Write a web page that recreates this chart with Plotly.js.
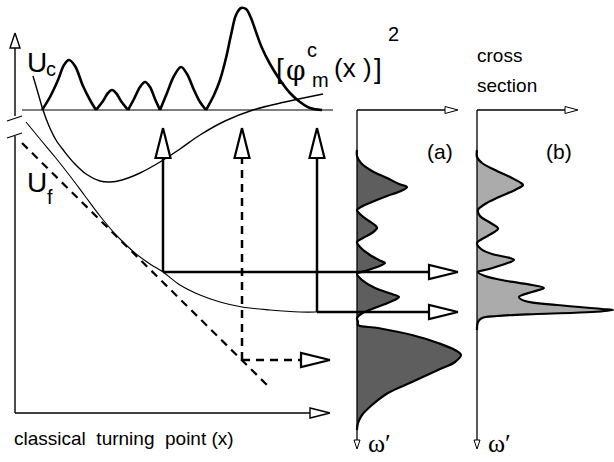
<!DOCTYPE html>
<html><head><meta charset="utf-8">
<script src="https://cdn.plot.ly/plotly-3.0.1.min.js"></script>
<style>html,body{margin:0;padding:0;background:#fff}#chart{width:614px;height:462px}</style>
</head><body><div id="chart"></div>
<script>
// ---- data (picture units: x to the right, y downwards) ----
// squared wavefunction [phi_m^c(x)]^2, lobes separated by null
const psiX = [42,50,58,64,69,75,83,90,96,null,
              96,103,108,112,116,121,128,null,
              128,134,140,145,150,155,160,null,
              160,167,174,181,187,194,200,206,null,
              206,214,220,226,231,236,241,246,251,256,262,270,280,290,300,310,322];
const psiY = [110,97,80,65,60,66,86,100,110,null,
              110,101,93,90,93,101,110,null,
              110,99,87,82,87,99,110,null,
              110,93,76,67,74,90,102,110,null,
              110,95,80,58,35,15,8,9,18,32,48,64,80,93,102,108,110];
const baseX = [22,333];
const baseY = [110,110];
// closed-channel potential U_c
const ucX = [33,38,43,49,56,64,74,86,100,110,122,140,160,180,200,225,253,285,323];
const ucY = [76,93,110,126,140,151,163,174,181,182,180,173,162,149,135,121,110,102,94];
// open-channel potential U_f
const ufX = [26,40,55,70,85,100,117,135,150,163,180,200,220,242,270,300,317];
const ufY = [122,139,157,176,196,216,236,253,264,272,285,295,302,307,310,312,312];
// linear (dashed) potential
const linX = [22,267];
const linY = [143,385];
// classical turning points (x) and their energy levels
const tpX = [163,242,317];
const tpY = [272,360,312];
const tpDashed = [false,true,false];
// spectrum (a): omega' position and intensity
const specAw = [150,156,163,171,178,184,187,191,196,202,207,210,215,221,226,228,233,238,242,248,255,261,263,267,271,274,280,288,294,297,302,309,314,318,322,325,328,335,343,350,355,362,370,382,393,405,415,423,430];
const specAi = [0,0,4,15,30,42,50,44,30,15,4,0,4,12,19,20,15,6,0,4,13,24,28,20,8,0,5,18,35,42,33,15,4,0,1,1,21,55,81,98,104,98,81,55,31,15,5,1,0];
// spectrum (b): cross section
const specBw = [150,157,163,170,178,183,185,190,197,204,210,216,222,227,229,234,239,243,249,254,258,260,264,269,272,276,281,285,288,292,297,301,305,309,310,312,314,316,318,322,330];
const specBi = [0,0,5,18,35,44,46,38,22,8,1,3,12,20,21,14,5,0,4,15,33,37,28,12,1,8,30,55,67,55,42,48,80,125,136,115,60,20,5,1,0];

// ---- layout constants ----
const axA = 357, axB = 477;
const BLK = '#000';
const traces = [];
function line(x, y, w, dash, shape) {
  traces.push({type:'scatter', mode:'lines', x:x, y:y, connectgaps:false,
    line:{color:BLK, width:w, dash:dash||'solid', shape:shape||'linear', smoothing:1},
    hoverinfo:'skip', showlegend:false});
}
function arrow(x0, y0, x1, y1, w, dash, L, W, hw) {
  const d = Math.hypot(x1-x0, y1-y0), dx = (x1-x0)/d, dy = (y1-y0)/d;
  const bx = x1 - dx*L, by = y1 - dy*L, nx = -dy, ny = dx;
  line([x0, bx], [y0, by], w, dash);
  traces.push({type:'scatter', mode:'lines', fill:'toself', fillcolor:'#fff',
    x:[x1, bx+nx*W, bx-nx*W, x1], y:[y1, by+ny*W, by-ny*W, y1],
    line:{color:BLK, width:hw||w}, hoverinfo:'skip', showlegend:false});
}
function spectrum(ax, w, I, fillc) {
  const xs = I.map(v => ax + v);
  traces.push({type:'scatter', mode:'lines', x:[ax].concat(xs, [ax]), y:[w[0]].concat(w, [w[w.length-1]]),
    fill:'toself', fillcolor:fillc, line:{width:0, shape:'spline', smoothing:0.8},
    hoverinfo:'skip', showlegend:false});
  line(xs, w, 2.2, 'solid', 'spline');
}

// left axes with break
arrow(15, 116, 15, 33, 1.4, 'solid', 15, 5);
line([7,22],[121,116],1.2);
line([7,138],[22,133].map(v=>v),1.2);
traces[traces.length-1].x=[7,22]; traces[traces.length-1].y=[138,133];
line([15,15],[136,413],1.4);
arrow(15, 413, 330, 413, 1.4, 'solid', 20, 5);

// top panel
line(baseX, baseY, 1.2);
line(psiX, psiY, 2.6, 'solid', 'spline');
line(ucX, ucY, 1.4, 'solid', 'spline');
line(ufX, ufY, 1.1, 'solid', 'spline');
line(linX, linY, 2.2, '8px,6px');

// spectra
spectrum(axA, specAw, specAi, '#5e5e5e');
spectrum(axB, specBw, specBi, '#ababab');
arrow(axA, 110, axA, 449, 1.3, 'solid', 9, 3, 1);
arrow(axA, 110, 458, 110, 1.3, 'solid', 13, 3.5, 1);
arrow(axB, 110, axB, 449, 1.3, 'solid', 9, 3, 1);
arrow(axB, 110, 578, 110, 1.3, 'solid', 13, 3.5, 1);

// turning-point arrows
for (let i = 0; i < tpX.length; i++) {
  const dash = tpDashed[i] ? '8px,6px' : 'solid';
  arrow(tpX[i], tpY[i], tpX[i], 128, 2.5, dash, 30, 7.5, 2.2);
  const endX = tpDashed[i] ? 330 : 458;
  arrow(tpX[i], tpY[i], endX, tpY[i], 2.5, dash, 29, 7, 2.2);
}

const F = 'Liberation Sans, Arial, sans-serif';
function txt(t, x, y, size, fam, anchor) {
  return {text:t, x:x, y:y, xref:'x', yref:'y', showarrow:false, xanchor:anchor||'left', yanchor:'middle',
    font:{family:fam||F, size:size, color:BLK}};
}
const ann = [
  txt('U', 25, 62, 28), txt('c', 44, 69, 20),
  txt('U', 25, 182, 28), txt('f', 45, 197, 20),
  txt('[', 274, 68, 28), txt('φ', 284, 70, 28, 'DejaVu Serif, serif'),
  txt('c', 305, 50, 20), txt('m', 310, 80, 20),
  txt('(x )', 332, 68, 26), txt(']', 372, 68, 28), txt('2', 386, 34, 20),
  txt('cross', 475, 55, 19), txt('section', 475, 85, 19),
  txt('(a)', 425, 151, 21), txt('(b)', 544, 151, 21),
  txt('ω′', 366, 443, 26, 'Liberation Serif, serif'), txt('ω′', 486, 443, 26, 'Liberation Serif, serif'),
  txt('classical  turning  point (x)', 12, 438, 19)
];

Plotly.newPlot('chart', traces, {
  width:614, height:462, margin:{l:0,r:0,t:0,b:0},
  paper_bgcolor:'#fff', plot_bgcolor:'#fff',
  xaxis:{range:[0,614], visible:false, fixedrange:true},
  yaxis:{range:[462,0], visible:false, fixedrange:true},
  annotations:ann, showlegend:false
}, {staticPlot:true});
</script></body></html>
